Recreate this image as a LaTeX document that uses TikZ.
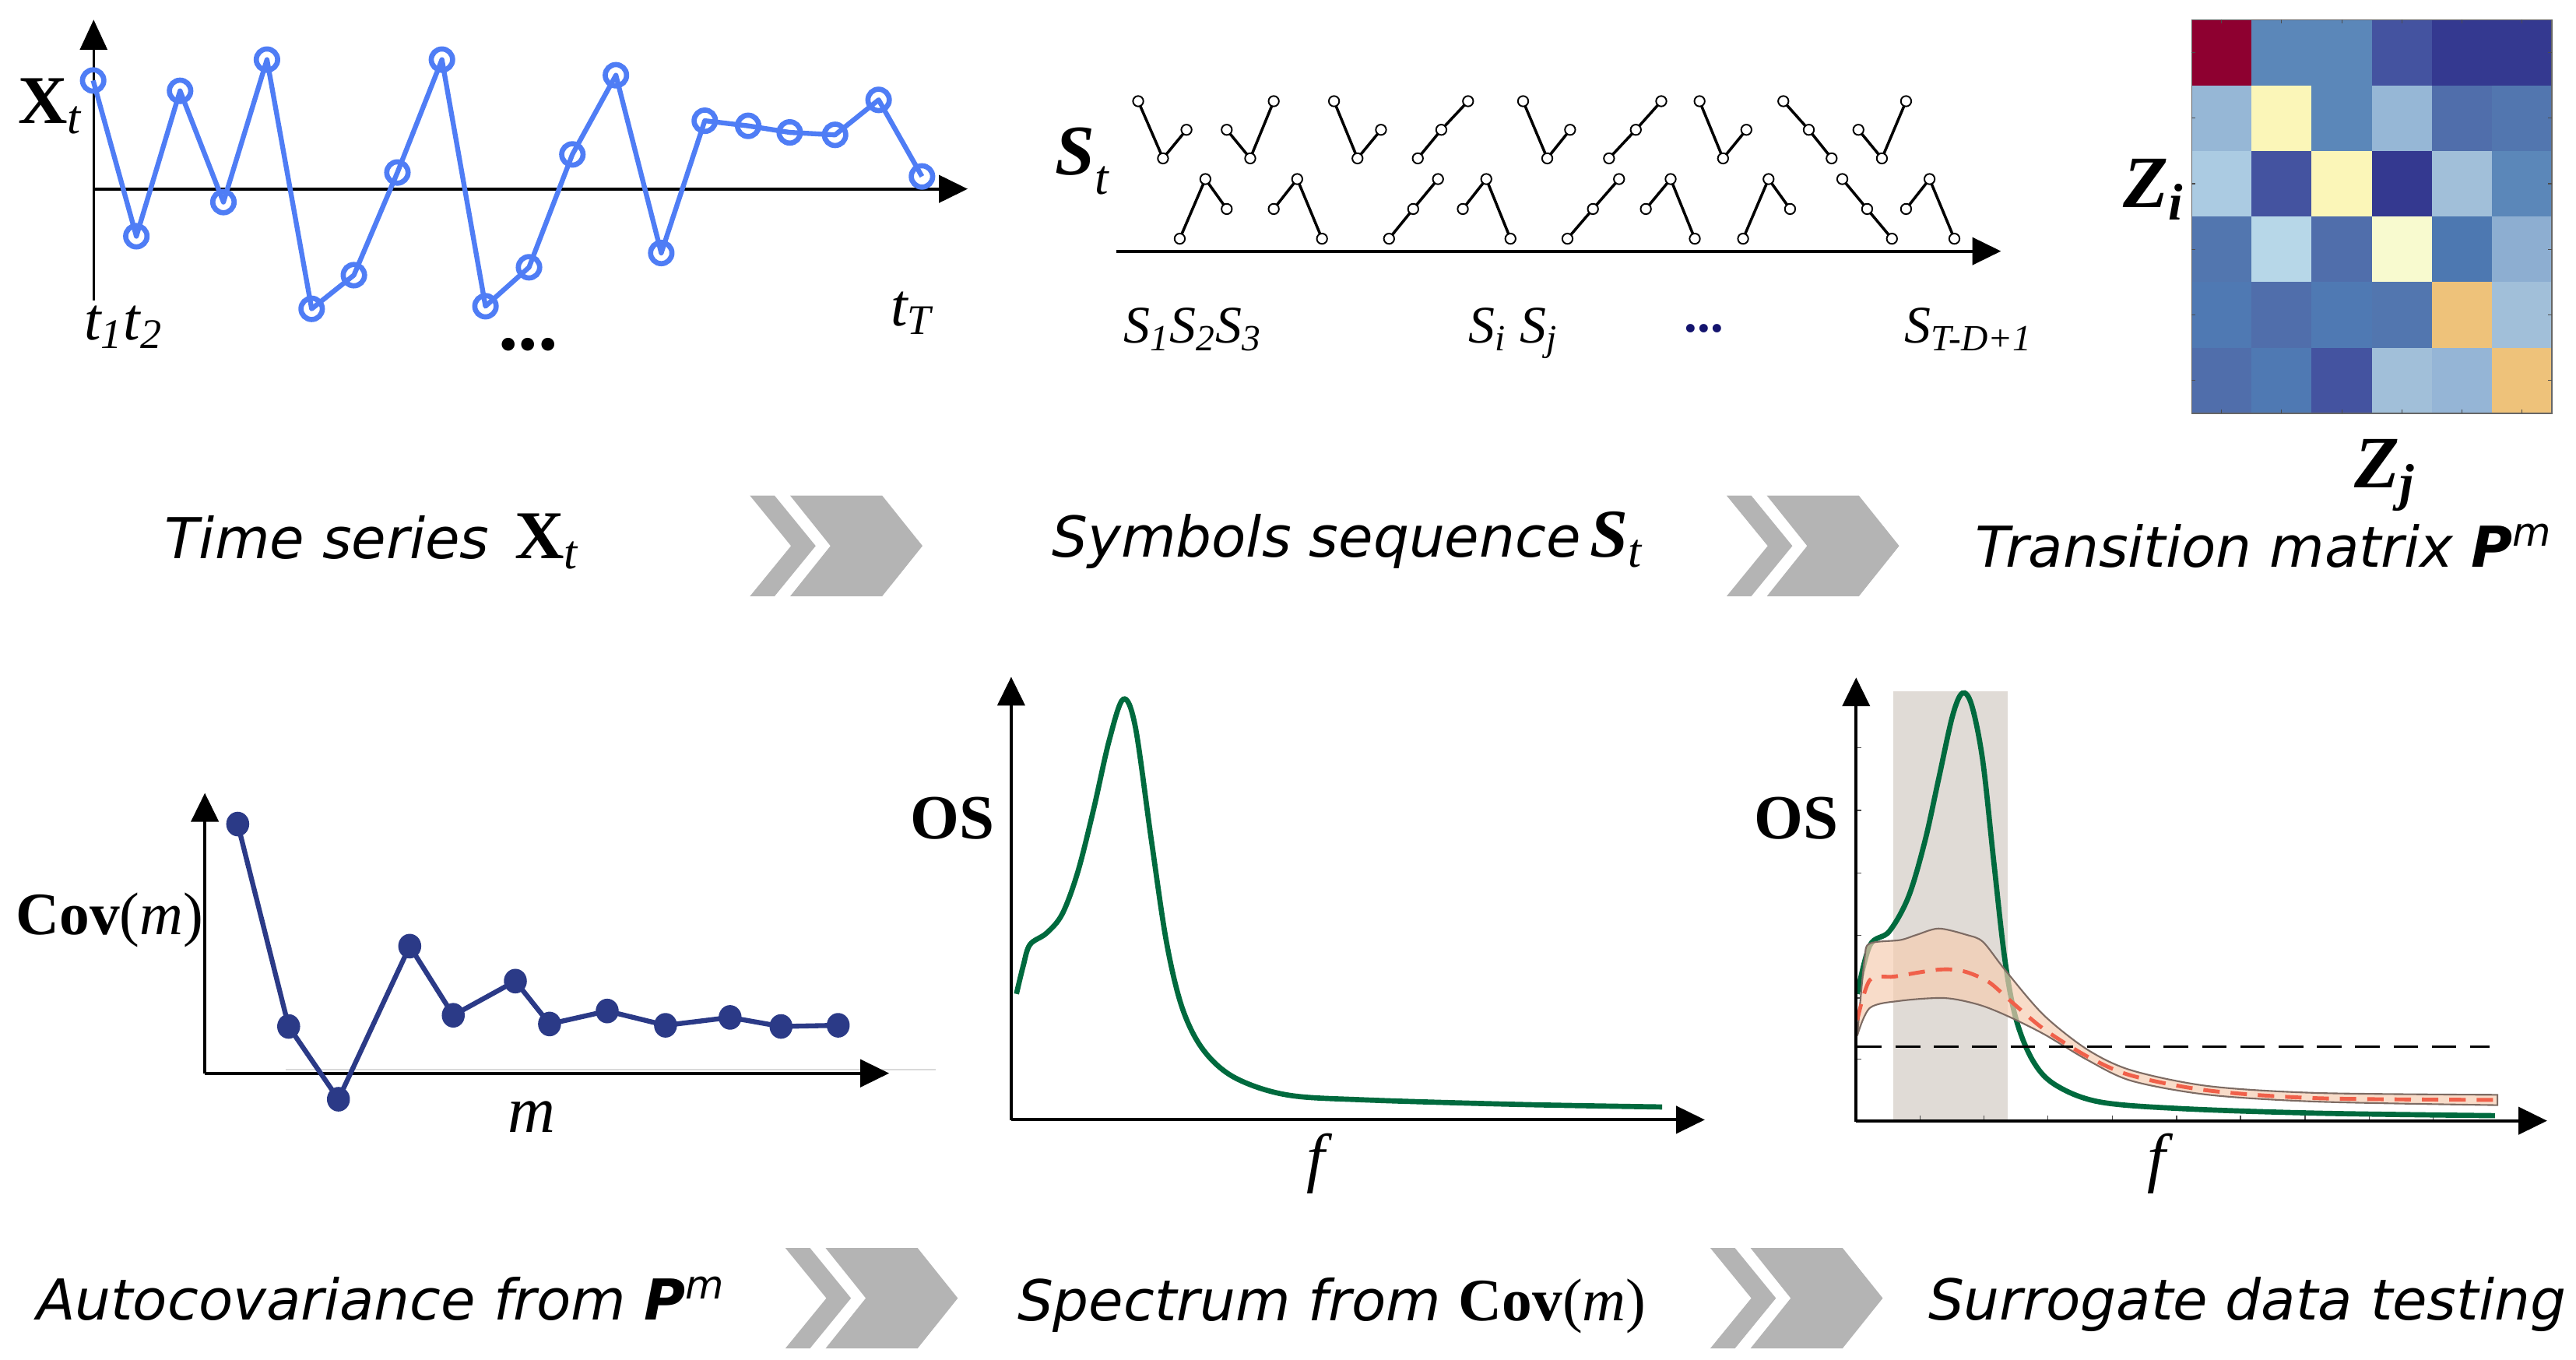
\documentclass[tikz,border=0pt]{standalone}
\usepackage{fontspec}
\setmainfont{Liberation Serif}
\newfontfamily\capfont{DejaVu Sans}
\usetikzlibrary{arrows.meta}
\definecolor{tsblue}{RGB}{79,125,245}
\definecolor{covnavy}{RGB}{43,58,135}
\definecolor{specgreen}{RGB}{0,106,62}
\definecolor{chevgray}{RGB}{180,180,180}
\definecolor{bandgray}{RGB}{224,219,214}
\definecolor{bandfill}{RGB}{245,205,178}
\definecolor{bandedge}{RGB}{125,107,99}
\definecolor{meanred}{RGB}{240,96,74}
\definecolor{dotnavy}{RGB}{20,20,110}
\newcommand\fsz[1]{\fontsize{#1}{#1}\selectfont}
\newcommand\chev[2]{\begin{scope}[shift={(#1,#2)}]
  \fill[chevgray] (0,0)--(15,0)--(40,30.6)--(15,61.2)--(0,61.2)--(25,30.6)--cycle;
  \fill[chevgray] (24.5,0)--(80.5,0)--(105,30.6)--(80.5,61.2)--(24.5,61.2)--(49,30.6)--cycle;
\end{scope}}
\newcommand\ordpat[6]{\draw[symline] (#1,#2)--(#3,#4)--(#5,#6);
  \foreach \px/\py in {#1/#2,#3/#4,#5/#6} \draw[symdot] (\px,\py) circle[radius=1.9pt];}
\begin{document}
\begin{tikzpicture}[x=0.0211cm,y=-0.0211cm,
  axisline/.style={line width=1.1pt,-{Triangle[length=10.5pt,width=10pt]}},
  tsline/.style={tsblue,line width=1.8pt,line join=round},
  tsdot/.style={tsblue,line width=1.9pt},
  symline/.style={black,line width=1.0pt},
  symdot/.style={black,fill=white,line width=0.55pt},
  covline/.style={covnavy,line width=1.8pt,line join=round},
  lbl/.style={anchor=base west,inner sep=0pt},
  captxt/.style={anchor=base west,inner sep=0pt,font=\capfont\itshape\fsz{20.6}},
  greencurve/.style={specgreen,line width=1.9pt}]
\useasboundingbox (0,0) rectangle (1568,827.8);

% ---------- Panel 1: time series ----------
\draw[line width=0.7pt,-{Triangle[length=11pt,width=10pt]}] (57,183) -- (57,12);
\draw[axisline] (57,115) -- (589,115);
\draw[tsline] (56.7,49)--(83,143.8)--(109.6,55.3)--(136,123)--(162.5,36.3)--(189.7,188)--(215.4,167.5)--(241.9,105)--(269,36.3)--(295.5,186.4)--(322,162.7)--(348.4,94)--(374.9,45.8)--(402.5,154)--(429,73.5)--(455.4,76.6)--(480.7,80.6)--(508.3,82.1)--(534.8,60.8)--(561.2,107.4);
\foreach \px/\py in {56.7/49,83/143.8,109.6/55.3,136/123,162.5/36.3,189.7/188,215.4/167.5,241.9/105,269/36.3,295.5/186.4,322/162.7,348.4/94,374.9/45.8,402.5/154,429/73.5,455.4/76.6,480.7/80.6,508.3/82.1,534.8/60.8,561.2/107.4}
  \draw[tsdot] (\px,\py) circle[radius=3.9pt];
\node[lbl] (xt) at (10.6,75) {\fsz{25}\bfseries X\textsubscript{\mdseries\itshape t}};
\node[lbl] (t12) at (51,207) {\fsz{22}\itshape t\textsubscript{1}t\textsubscript{2}};
\node[lbl] (tT) at (542,198.2) {\fsz{22}\itshape t\textsubscript{T}};
\node[lbl] (dots1) at (303,213) {\fsz{29}\bfseries ...};

% ---------- Panel 2: symbols ----------
\draw[axisline] (679.4,152.9) -- (1218,152.9);
\ordpat{692.8}{61.6}{707.9}{96.4}{722.2}{79}
\ordpat{746.7}{79}{761}{96.4}{775.3}{61.6}
\ordpat{812}{61.6}{826.3}{96.4}{840.6}{79}
\ordpat{863}{96.4}{877.3}{79}{893.6}{61.6}
\ordpat{927.1}{61.6}{941.8}{96.4}{955.7}{79}
\ordpat{979.4}{96.4}{995.7}{79}{1011.2}{61.6}
\ordpat{1034.5}{61.6}{1048.8}{96.4}{1063}{79}
\ordpat{1085.5}{61.6}{1101}{79}{1114.9}{96.4}
\ordpat{1131.2}{79}{1145.5}{96.4}{1160.2}{61.6}
\ordpat{718.1}{145.3}{733.7}{109}{746.7}{127.2}
\ordpat{775.3}{127.2}{789.6}{109}{804.7}{145.3}
\ordpat{845.5}{145.3}{860.2}{127.2}{875.3}{109}
\ordpat{890.4}{127.2}{904.7}{109}{919.4}{145.3}
\ordpat{954.1}{145.3}{969.6}{127.2}{985.5}{109}
\ordpat{1001.8}{127.2}{1016.9}{109}{1031.6}{145.3}
\ordpat{1061}{145.3}{1076.5}{109}{1089.6}{127.2}
\ordpat{1121.4}{109}{1136.5}{127.2}{1151.6}{145.3}
\ordpat{1160.2}{127.2}{1174.5}{109}{1189.6}{145.3}
\node[lbl] (st) at (642,106.2) {\fsz{26}\bfseries\itshape S\raisebox{-0.6ex}{\fsz{18}\mdseries t}};
\node[lbl] (s123) at (683.5,208.5) {\fsz{19.3}\itshape S\textsubscript{1}S\textsubscript{2}S\textsubscript{3}};
\node[lbl] (sij) at (893.7,208.5) {\fsz{19.3}\itshape S\textsubscript{i} S\textsubscript{j}};
\node[lbl,text=dotnavy] (dots2) at (1025,202) {\fsz{19}\bfseries ...};
\node[lbl] (sT) at (1159,208.5) {\fsz{19.3}\itshape S\textsubscript{T-D+1}};

% ---------- Panel 3: matrix ----------
\foreach \r/\c/\h in {0/0/8E0030,0/1/5B87B9,0/2/5B87B9,0/3/4453A0,0/4/343990,0/5/343990,
  1/0/96B7D6,1/1/FBF6B8,1/2/5B87B9,1/3/96B7D6,1/4/506EAB,1/5/5276AF,
  2/0/ABCBE2,2/1/4453A0,2/2/FBF6B8,2/3/343990,2/4/A1BFD9,2/5/5B87B9,
  3/0/5276AF,3/1/B7D7E8,3/2/506EAB,3/3/F8FACF,3/4/4D78B1,3/5/8DAED1,
  4/0/4F79B3,4/1/506EAB,4/2/4F79B3,4/3/5276AF,4/4/EEC27A,4/5/A1BFD9,
  5/0/506EAB,5/1/4F79B3,5/2/4453A0,5/3/A1BFD9,5/4/95B5D6,5/5/EEC27A}{
  \edef\tmp{\noexpand\definecolor{cellc}{HTML}{\h}}\tmp
  \fill[cellc] ({1334+\c*36.55},{12+\r*39.93}) rectangle ++(36.55,39.93);
}
\draw[gray!80!black,line width=0.4pt] (1334,12) rectangle (1553.3,251.6);
\foreach \c in {0,...,5}{
  \draw[black!70,line width=0.3pt] ({1334+(\c+0.5)*36.55},12) -- ++(0,2.2);
  \draw[black!70,line width=0.3pt] ({1334+(\c+0.5)*36.55},251.6) -- ++(0,-2.2);
  \draw[black!70,line width=0.3pt] (1334,{12+(\c+0.5)*39.93}) -- ++(2.2,0);
  \draw[black!70,line width=0.3pt] (1553.3,{12+(\c+0.5)*39.93}) -- ++(-2.2,0);
}
\node[lbl] (zi) at (1292,126.5) {\fsz{27}\bfseries\itshape Z\textsubscript{i}};
\node[lbl] (zj) at (1433,296.8) {\fsz{27}\bfseries\itshape Z\textsubscript{j}};

% ---------- Row 1 captions and chevrons ----------
\node[captxt] (cap1) at (100,339.8) {Time series\hspace{0.45em}{\rmfamily\upshape\bfseries\fsz{25}X\textsubscript{\mdseries\itshape t}}};
\chev{456.5}{301.7}
\node[captxt] (cap2) at (640,339) {Symbols sequence\,{\rmfamily\bfseries\itshape\fsz{25}S\textsubscript{\mdseries t}}};
\chev{1051}{301.7}
\node[captxt] (cap3) at (1202,345) {Transition matrix {\bfseries P}\textsuperscript{m}};

% ---------- Panel 4: autocovariance ----------
\draw[black!15,line width=0.5pt] (173.8,650.9) -- (569.8,650.9);
\draw[axisline] (124.7,653.3) -- (124.7,482.7);
\draw[axisline] (124.7,653.3) -- (541.2,653.3);
\draw[covline] (144.7,501.6)--(175.7,624.8)--(206,669.1)--(249.4,575.9)--(275.9,618)--(313.7,597.2)--(334.5,623.3)--(369.6,615.4)--(405.1,624.1)--(444.4,619.3)--(475.4,624.8)--(510.2,624.1);
\foreach \px/\py in {144.7/501.6,175.7/624.8,206/669.1,249.4/575.9,275.9/618,313.7/597.2,334.5/623.3,369.6/615.4,405.1/624.1,444.4/619.3,475.4/624.8,510.2/624.1}
  \fill[covnavy] (\px,\py) ellipse[x radius=4.2pt,y radius=4.5pt];
\node[lbl] (covl) at (9.4,568.8) {\fsz{22}\textbf{Cov}(\textit{m})};
\node[lbl] (ml) at (309,689) {\fsz{24}\itshape m};

% ---------- Panel 5: spectrum ----------
\draw[axisline] (615.5,682) -- (615.5,412);
\draw[axisline] (615.5,681.6) -- (1037.7,681.6);
\draw[greencurve] plot[smooth,tension=0.55] coordinates {(618.7,605) (622.8,588) (626.9,575) (637,568) (646.6,556.3) (656,530.9) (665.6,492.9) (675.2,450.5) (683.7,425.6) (691,442.1) (700.6,509.8) (710,573.3) (719.6,613.5) (732.3,638.9) (751.3,655.8) (783,666.4) (830.7,669.5) (926,672.3) (1011.7,673.8)};
\node[lbl] (os1) at (554,510.8) {\fsz{23}\bfseries OS};
\node[lbl] (f1) at (795,718) {\fsz{24}\itshape f};

% ---------- Panel 6: surrogate ----------
\fill[bandgray] (1152.6,420.9) rectangle (1222,682.2);
\foreach \py in {455.2,493.3,531.4,569.4,607.5,644.8}
  \draw[black!70,line width=0.4pt] (1129.8,\py) -- ++(3,0);
\foreach \px in {1168.7,1207.6,1246.5,1285.7,1324.9,1363.8,1403,1442.2,1481}
  \draw[black!70,line width=0.4pt] (\px,682.2) -- ++(0,-3);
\draw[greencurve] plot[smooth,tension=0.55] coordinates {(1130.5,605) (1138.2,575.4) (1150,566.9) (1161.7,545.8) (1171.7,511.9) (1180.1,473.8) (1188.5,435.7) (1194.5,421.9) (1200.2,429.4) (1206.9,463.2) (1213.6,524.6) (1220.3,583.8) (1227,619.8) (1237.1,645.2) (1250.5,660) (1277.3,670.6) (1327.6,674.8) (1411.3,677.6) (1518.6,679.1)};
\fill[bandfill,fill opacity=0.7] plot[smooth,tension=0.5] coordinates {(1130.5,630.4) (1134.9,583.8) (1138.2,574.3) (1156.6,572.2) (1166.7,569) (1180.1,565.2) (1196.9,569) (1207,573.3) (1220.3,590.2) (1243.8,617.7) (1270.6,638.9) (1297.4,651.5) (1344.3,661.1) (1411.3,665.3) (1520.2,666.4)} -- plot[smooth,tension=0.5] coordinates {(1520.2,672.7) (1411.3,670.6) (1344.3,666.4) (1297.4,657.9) (1270.6,645.2) (1243.8,629.3) (1220.3,617.7) (1203.6,611.3) (1183.5,607.5) (1156.6,609.2) (1138.2,613.5) (1130.5,630.4)} -- cycle;
\draw[bandedge,line width=0.6pt] plot[smooth,tension=0.5] coordinates {(1130.5,630.4) (1134.9,583.8) (1138.2,574.3) (1156.6,572.2) (1166.7,569) (1180.1,565.2) (1196.9,569) (1207,573.3) (1220.3,590.2) (1243.8,617.7) (1270.6,638.9) (1297.4,651.5) (1344.3,661.1) (1411.3,665.3) (1520.2,666.4)} -- plot[smooth,tension=0.5] coordinates {(1520.2,672.7) (1411.3,670.6) (1344.3,666.4) (1297.4,657.9) (1270.6,645.2) (1243.8,629.3) (1220.3,617.7) (1203.6,611.3) (1183.5,607.5) (1156.6,609.2) (1138.2,613.5) (1130.5,630.4)};
\draw[meanred,line width=1.4pt,dash pattern=on 6pt off 4pt] plot[smooth,tension=0.5] coordinates {(1130.5,620.9) (1138.2,596.5) (1153.3,594.4) (1180.1,590.2) (1195.2,591.2) (1210.3,597.6) (1223.7,609.2) (1243.8,626.2) (1270.6,643.1) (1297.4,654.7) (1344.3,663.8) (1411.3,668.5) (1520.2,669.5)};
\draw[black,line width=0.8pt,dash pattern=on 9pt off 5pt] (1130.5,637.2) -- (1515.2,637.2);
\draw[axisline] (1129.8,682.9) -- (1129.8,412.4);
\draw[axisline] (1129.8,682.2) -- (1550.4,682.2);
\node[lbl] (os2) at (1067.5,510.8) {\fsz{23}\bfseries OS};
\node[lbl] (f2) at (1307,718) {\fsz{24}\itshape f};

% ---------- Row 2 captions and chevrons ----------
\node[captxt] (cap4) at (22,803.3) {Autocovariance from {\bfseries P}\textsuperscript{m}};
\chev{478}{759.6}
\node[captxt] (cap5) at (619,804) {Spectrum from {\rmfamily\upshape\fsz{22}\textbf{Cov}(\textit{m})}};
\chev{1041}{759.6}
\node[captxt] (cap6) at (1173.4,803.3) {Surrogate data testing};
\end{tikzpicture}
\end{document}
